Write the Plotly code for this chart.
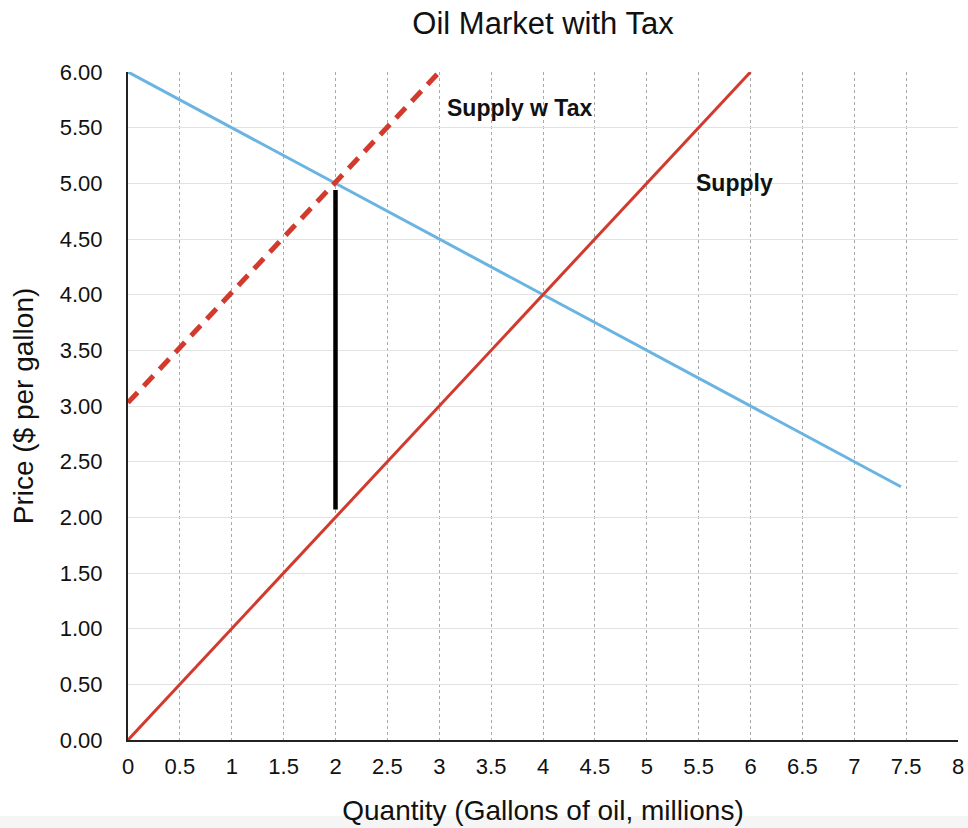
import plotly.graph_objects as go

# Demand, supply, supply with tax, tax wedge
demand_q = [0, 7.45]
demand_p = [6.0, 2.275]
supply_q = [0, 6]
supply_p = [0, 6.0]
tax_q = [0, 3]
tax_p = [3.03, 6.0]
wedge_q = [2, 2]
wedge_p = [2.07, 4.94]

x_ticks = [i * 0.5 for i in range(17)]
x_labels = ["0", "0.5", "1", "1.5", "2", "2.5", "3", "3.5", "4", "4.5",
            "5", "5.5", "6", "6.5", "7", "7.5", "8"]
y_ticks = [i * 0.5 for i in range(13)]
y_labels = ["%.2f" % v for v in y_ticks]

font = "Liberation Sans, Arial, sans-serif"

fig = go.Figure()
fig.add_trace(go.Scatter(x=demand_q, y=demand_p, mode="lines",
                         line=dict(color="#6ab4e1", width=3), showlegend=False))
fig.add_trace(go.Scatter(x=supply_q, y=supply_p, mode="lines",
                         line=dict(color="#d23a2e", width=3), showlegend=False))
fig.add_trace(go.Scatter(x=tax_q, y=tax_p, mode="lines",
                         line=dict(color="#d23a2e", width=5, dash="14px,9px"),
                         showlegend=False))
fig.add_trace(go.Scatter(x=wedge_q, y=wedge_p, mode="lines",
                         line=dict(color="black", width=4.5), showlegend=False))

fig.add_annotation(x=3.06, y=5.68, text="<b>Supply w Tax</b>", showarrow=False,
                   xanchor="left", font=dict(size=23, color="#111"))
fig.add_annotation(x=5.46, y=5.0, text="<b>Supply</b>", showarrow=False,
                   xanchor="left", font=dict(size=23, color="#111"))

# faint grey strip along the very bottom of the image
fig.add_shape(type="rect", xref="paper", yref="paper", x0=-0.2, x1=1.05,
              y0=-76 / 668, y1=-0.14, fillcolor="#f5f5f5", line_width=0,
              layer="below")

fig.update_layout(
    width=968,
    height=828,
    template="plotly_white",
    paper_bgcolor="white",
    plot_bgcolor="white",
    font=dict(family=font, size=22, color="#111"),
    margin=dict(l=128, r=10, t=72, b=88),
    title=dict(text="Oil Market with Tax", x=0.5, xref="paper", y=1 - 23 / 828,
               yanchor="middle", font=dict(size=31, color="#111")),
    xaxis=dict(
        range=[0, 8],
        tickvals=x_ticks,
        ticktext=x_labels,
        showgrid=True,
        gridcolor="#a8a8a8",
        griddash="3px,3px",
        gridwidth=1,
        showline=True,
        linecolor="#222",
        linewidth=2,
        zeroline=False,
        ticks="",
        automargin=False,
        ticklabelstandoff=6,
        title=dict(text="Quantity (Gallons of oil, millions)", standoff=22,
                   font=dict(size=28)),
    ),
    yaxis=dict(
        range=[0, 6],
        tickvals=y_ticks,
        ticktext=y_labels,
        showgrid=True,
        gridcolor="#e2e2e2",
        gridwidth=1,
        showline=True,
        linecolor="#222",
        linewidth=2,
        zeroline=False,
        ticks="",
        automargin=False,
        ticklabelstandoff=19,
        title=dict(text="Price ($ per gallon)", standoff=18, font=dict(size=28)),
    ),
)

# drop the page's default body margin so the figure sits at the window corner
fig.write_html("out.html", config={"displayModeBar": False},
               post_script="document.body.style.margin = '0';")
